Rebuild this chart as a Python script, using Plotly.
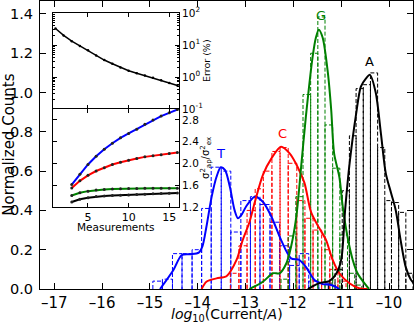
import plotly.graph_objects as go

# histogram bins (edges) and heights
blue_edges = [-14.94, -14.74, -14.53, -14.33, -14.12, -13.92, -13.72, -13.51, -13.31, -13.10,
              -12.90, -12.70, -12.49, -12.29, -12.08, -11.88, -11.68, -11.47, -11.27]
blue_counts = [0.04, 0.05, 0.18, 0.18, 0.20, 0.41, 0.62, 0.60, 0.29, 0.45,
               0.47, 0.43, 0.34, 0.22, 0.12, 0.18, 0.04, 0.03]

red_edges = [-13.32, -13.14, -12.97, -12.80, -12.63, -12.45, -12.28, -12.11, -11.93, -11.76,
             -11.59, -11.41, -11.24, -11.07, -10.90]
red_counts = [0.08, 0.22, 0.40, 0.51, 0.60, 0.70, 0.72, 0.64, 0.45, 0.36, 0.30, 0.20, 0.10, 0.04]

green_edges = [-12.26, -12.11, -11.95, -11.80, -11.64, -11.49, -11.34, -11.18, -11.03, -10.87,
               -10.72, -10.57]
green_counts = [0.05, 0.27, 0.47, 0.99, 1.20, 1.385, 0.835, 0.615, 0.275, 0.08, 0.02]

black_edges = [-11.27, -11.13, -10.98, -10.83, -10.69, -10.54, -10.39, -10.24, -10.09, -9.95,
               -9.80, -9.65, -9.50]
black_counts = [0.03, 0.10, 0.50, 0.78, 1.02, 1.04, 1.10, 0.72, 0.45, 0.44, 0.39, 0.08]

# smoothed density curves
blue_x = [-14.79, -14.51, -14.34, -14.17, -13.98, -13.90, -13.82, -13.71, -13.61, -13.52, -13.43,
          -13.33, -13.23, -13.16, -13.08, -12.99, -12.81, -12.64, -12.46, -12.26, -12.05, -11.88,
          -11.74, -11.56, -11.39, -11.21, -11.04]
blue_y = [0.0, 0.097, 0.172, 0.177, 0.185, 0.22, 0.317, 0.47, 0.57, 0.62, 0.605,
          0.52, 0.40, 0.36, 0.38, 0.42, 0.47, 0.444, 0.368, 0.25, 0.156, 0.148,
          0.113, 0.046, 0.025, 0.02, 0.0]

red_x = [-13.92, -13.82, -13.61, -13.40, -13.19, -13.06, -12.92, -12.81, -12.64, -12.46, -12.26,
         -12.08, -11.91, -11.77, -11.63, -11.46, -11.32, -11.18, -11.04, -10.83, -10.63, -10.45]
red_y = [0.0, 0.037, 0.054, 0.065, 0.148, 0.25, 0.34, 0.44, 0.58, 0.665, 0.724,
         0.69, 0.62, 0.54, 0.39, 0.31, 0.25, 0.148, 0.08, 0.029, 0.004, 0.0]

green_x = [-12.92, -12.64, -12.43, -12.29, -12.15, -12.05, -11.94, -11.84, -11.74, -11.60, -11.53,
           -11.47, -11.39, -11.28, -11.21, -11.15, -11.04, -10.97, -10.87, -10.76, -10.66, -10.55,
           -10.42]
green_y = [0.0, 0.037, 0.08, 0.08, 0.13, 0.215, 0.368, 0.62, 0.877, 1.18, 1.28,
           1.32, 1.28, 1.10, 0.91, 0.69, 0.57, 0.42, 0.266, 0.148, 0.08, 0.04,
           0.0]

black_x = [-11.70, -11.46, -11.25, -11.10, -11.00, -10.92, -10.83, -10.69, -10.59, -10.49, -10.40,
           -10.28, -10.17, -10.07, -9.96, -9.86, -9.76, -9.65, -9.55, -9.45]
black_y = [0.0, 0.03, 0.04, 0.08, 0.15, 0.40, 0.63, 0.89, 1.03, 1.07, 1.09,
           1.0, 0.79, 0.59, 0.49, 0.40, 0.25, 0.11, 0.05, 0.02]

labels = ["T", "C", "G", "A"]
label_x = [-13.53, -12.23, -11.42, -10.40]
label_y = [0.69, 0.79, 1.39, 1.157]

x_ticks = [-17, -16, -15, -14, -13, -12, -11, -10]
x_ticktext = ["–17", "–16", "–15", "–14", "–13", "–12", "–11", "–10"]
y_ticks = [0, 0.2, 0.4, 0.6, 0.8, 1.0, 1.2, 1.4]

# inset data
meas_err = list(range(1, 17))
error_pct = [33.1, 20.0, 13.2, 9.3, 6.9, 4.7, 3.4, 2.6, 2.0, 1.58, 1.32, 1.12, 0.95, 0.79, 0.65, 0.54]

meas = list(range(3, 17))
ratio_blue = [1.61, 1.80, 1.98, 2.13, 2.26, 2.37, 2.47, 2.55, 2.63, 2.72, 2.80, 2.87, 2.93, 2.99]
ratio_red = [1.55, 1.68, 1.78, 1.86, 1.92, 1.98, 2.02, 2.06, 2.09, 2.12, 2.14, 2.16, 2.18, 2.20]
ratio_green = [1.41, 1.46, 1.49, 1.51, 1.52, 1.53, 1.535, 1.54, 1.54, 1.542, 1.543, 1.544, 1.545, 1.545]
ratio_black = [1.29, 1.34, 1.37, 1.39, 1.40, 1.41, 1.415, 1.42, 1.43, 1.435, 1.44, 1.445, 1.45, 1.455]

FONT = "DejaVu Sans"


def hist_path(edges, counts):
    xs, ys = [], []
    for i, h in enumerate(counts):
        a, b = edges[i], edges[i + 1]
        xs += [a, a, b, b, None]
        ys += [0, h, h, 0, None]
    return xs, ys


fig = go.Figure()

series = [
    (blue_edges, blue_counts, blue_x, blue_y, "#0000ff"),
    (red_edges, red_counts, red_x, red_y, "#ff0000"),
    (green_edges, green_counts, green_x, green_y, "#008000"),
    (black_edges, black_counts, black_x, black_y, "#000000"),
]
for edges, counts, kx, ky, col in series:
    hx, hy = hist_path(edges, counts)
    fig.add_trace(go.Scatter(x=hx, y=hy, mode="lines",
                             line=dict(color=col, width=1, dash="4px,2px"),
                             showlegend=False, hoverinfo="skip"))
for edges, counts, kx, ky, col in series:
    fig.add_trace(go.Scatter(x=kx, y=ky, mode="lines",
                             line=dict(color=col, width=2, shape="spline", smoothing=0.8),
                             showlegend=False))

for txt, lx, ly, col in zip(labels, label_x, label_y, ["#0000ff", "#ff0000", "#008000", "#000000"]):
    fig.add_annotation(x=lx, y=ly, text=txt, showarrow=False,
                       font=dict(family=FONT, size=13, color=col))

# inset: error
fig.add_trace(go.Scatter(x=meas_err, y=error_pct, mode="lines+markers", xaxis="x2", yaxis="y2",
                         line=dict(color="black", width=1.5), marker=dict(size=2.5, color="black"),
                         showlegend=False))
# inset: variance ratio
for vals, col in [(ratio_blue, "#0000ff"), (ratio_red, "#ff0000"),
                  (ratio_green, "#008000"), (ratio_black, "#000000")]:
    fig.add_trace(go.Scatter(x=meas, y=vals, mode="lines+markers", xaxis="x3", yaxis="y3",
                             line=dict(color=col, width=2),
                             marker=dict(size=3, color="#222222"),
                             showlegend=False))

axis_common = dict(showline=True, linecolor="black", linewidth=1, mirror="ticks",
                   ticks="inside", tickcolor="black", showgrid=False, zeroline=False,
                   automargin=False)

inset_x = [0.035, 0.3727]

fig.update_layout(
    width=415, height=324,
    margin=dict(l=40, r=2, t=1, b=35),
    plot_bgcolor="white", paper_bgcolor="white",
    font=dict(family=FONT, color="black"),
    xaxis=dict(range=[-17.3, -9.5], tickvals=x_ticks, ticktext=x_ticktext,
               ticklen=6, tickfont=dict(size=15), **axis_common),
    yaxis=dict(range=[0, 1.466], tickvals=y_ticks, ticklabelstandoff=3,
               tickformat=".1f", ticklen=6, tickfont=dict(size=14.5), **axis_common),
    xaxis2=dict(domain=inset_x, anchor="y2", range=[0.7, 16.2], tickvals=[5, 10, 15],
                showticklabels=False, ticklen=4, **axis_common),
    yaxis2=dict(domain=[0.625, 0.958], anchor="x2", type="log", range=[-1, 2], side="right",
                tickvals=[0.1, 1, 10, 100],
                ticktext=["10<sup>-1</sup>", "10<sup>0</sup>", "10<sup>1</sup>", "10<sup>2</sup>"],
                ticklen=4, tickfont=dict(size=10.5),
                minor=dict(ticks="inside", ticklen=2, tickcolor="black", dtick="D1"),
                **axis_common),
    xaxis3=dict(domain=inset_x, anchor="y3", range=[0.7, 16.2], tickvals=[5, 10, 15],
                ticklen=4, tickfont=dict(size=11), **axis_common),
    yaxis3=dict(domain=[0.285, 0.625], anchor="x3", range=[1.2, 3.0], side="right",
                tickvals=[1.2, 1.6, 2.0, 2.4, 2.8], tickformat=".1f",
                ticklen=4, tickfont=dict(size=10.5), **axis_common),
)

fig.add_annotation(xref="paper", yref="paper", x=0.5, y=-0.09, xanchor="center", yanchor="middle",
                   text="<i>log</i><sub>10</sub>(Current/<i>A</i>)", showarrow=False,
                   font=dict(size=14))
fig.add_annotation(xref="paper", yref="paper", x=-0.084, y=0.5, xanchor="center", yanchor="middle",
                   textangle=-90, text="Normalized Counts", showarrow=False, font=dict(size=15))
fig.add_annotation(xref="paper", yref="paper", x=0.204, y=0.214, xanchor="center", yanchor="middle",
                   text="Measurements", showarrow=False, font=dict(size=10.5))
fig.add_annotation(xref="paper", yref="paper", x=0.445, y=0.795, xanchor="center", yanchor="middle",
                   textangle=-90, text="Error (%)", showarrow=False, font=dict(size=9.5))
fig.add_annotation(xref="paper", yref="paper", x=0.445, y=0.455, xanchor="center", yanchor="middle",
                   textangle=-90,
                   text="σ<sup>2</sup><sub>ap</sub>/σ<sup>2</sup><sub>ex</sub>", showarrow=False,
                   font=dict(size=10))

fig.write_html("out.html", config={"displayModeBar": False},
               post_script="document.body.style.margin='0px';")
